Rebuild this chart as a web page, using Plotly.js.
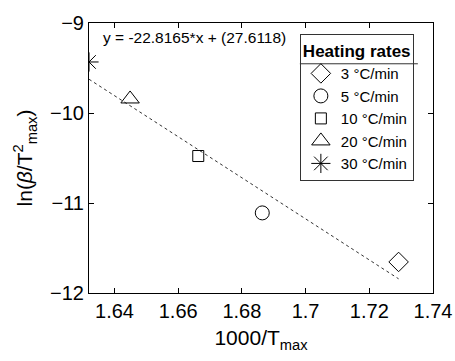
<!DOCTYPE html>
<html>
<head>
<meta charset="utf-8">
<script src="https://cdn.plot.ly/plotly-3.0.1.min.js"></script>
<style>html,body{margin:0;padding:0;background:#fff;}#chart{width:455px;height:361px;}</style>
</head>
<body>
<div id="chart"></div>
<script>
const rateLabels = ['3 °C/min', '5 °C/min', '10 °C/min', '20 °C/min', '30 °C/min'];
const invTmax = [1.7292, 1.6864, 1.6663, 1.6449, 1.6320];
const lnBetaT2 = [-11.655, -11.11, -10.478, -9.844, -9.433];
const markerSymbols = ['diamond-open', 'circle-open', 'square-open', 'triangle-up-open', 'asterisk-open'];
const markerSizes = [15, 14, 11, 16, 16];
const fitSlope = -22.8165;
const fitIntercept = 27.6118;
const xTicks = [1.64, 1.66, 1.68, 1.70, 1.72, 1.74];
const xTickText = ['1.64', '1.66', '1.68', '1.7', '1.72', '1.74'];
const yTicks = [-9, -10, -11, -12];

const fitX = [Math.min(...invTmax), Math.max(...invTmax)];
const fitY = fitX.map(x => fitSlope * x + fitIntercept);

const font = 'Liberation Sans, Arial, sans-serif';
const traces = [{
  x: fitX, y: fitY, mode: 'lines', showlegend: false, hoverinfo: 'skip',
  line: {color: '#333', width: 1, dash: 'dot'}
}];
rateLabels.forEach((lab, i) => {
  traces.push({
    x: [invTmax[i]], y: [lnBetaT2[i]], mode: 'markers', name: lab,
    marker: {symbol: markerSymbols[i], size: markerSizes[i], color: '#000', line: {color: '#000', width: 1}}
  });
});

const layout = {
  width: 455, height: 361,
  margin: {l: 89, r: 22, t: 23, b: 68},
  paper_bgcolor: '#fff', plot_bgcolor: '#fff',
  font: {family: font, color: '#000'},
  showlegend: true,
  xaxis: {
    range: [1.632, 1.74], tickvals: xTicks, ticktext: xTickText,
    ticks: 'inside', ticklen: 5, tickcolor: '#000', showline: true, linecolor: '#000', linewidth: 1,
    mirror: 'allticks', showgrid: false, zeroline: false,
    tickfont: {size: 20, family: font},
    title: {text: '1000/T<sub>max</sub>', font: {size: 21, family: font}, standoff: 9}
  },
  yaxis: {
    range: [-12, -9], tickvals: yTicks,
    ticks: 'inside', ticklen: 5, tickcolor: '#000', showline: true, linecolor: '#000', linewidth: 1,
    mirror: 'allticks', showgrid: false, zeroline: false,
    tickfont: {size: 20, family: font},
    title: {text: 'ln(<i>β</i>/T<sup>2</sup><sub>max</sub>)', font: {size: 21, family: font}, standoff: 11}
  },
  legend: {
    x: 0.613, y: 0.959, xanchor: 'left', yanchor: 'top',
    bgcolor: 'rgba(255,255,255,0)', bordercolor: '#333', borderwidth: 1,
    font: {size: 15, family: font},
    title: {text: '<b>Heating rates</b>', font: {size: 17, family: font}, side: 'top'},
    itemwidth: 30, tracegroupgap: 0
  },
  shapes: [{
    type: 'line', xref: 'paper', yref: 'paper', x0: 0.613, x1: 0.956, y0: 0.849, y1: 0.849,
    line: {color: '#333', width: 1}
  }],
  annotations: [{
    xref: 'paper', yref: 'paper', x: 0.035, y: 0.985, xanchor: 'left', yanchor: 'top',
    text: 'y = -22.8165*x + (27.6118)', showarrow: false, font: {size: 15.5, family: font}
  }]
};
Plotly.newPlot('chart', traces, layout, {displayModeBar: false, staticPlot: true});
</script>
</body>
</html>
